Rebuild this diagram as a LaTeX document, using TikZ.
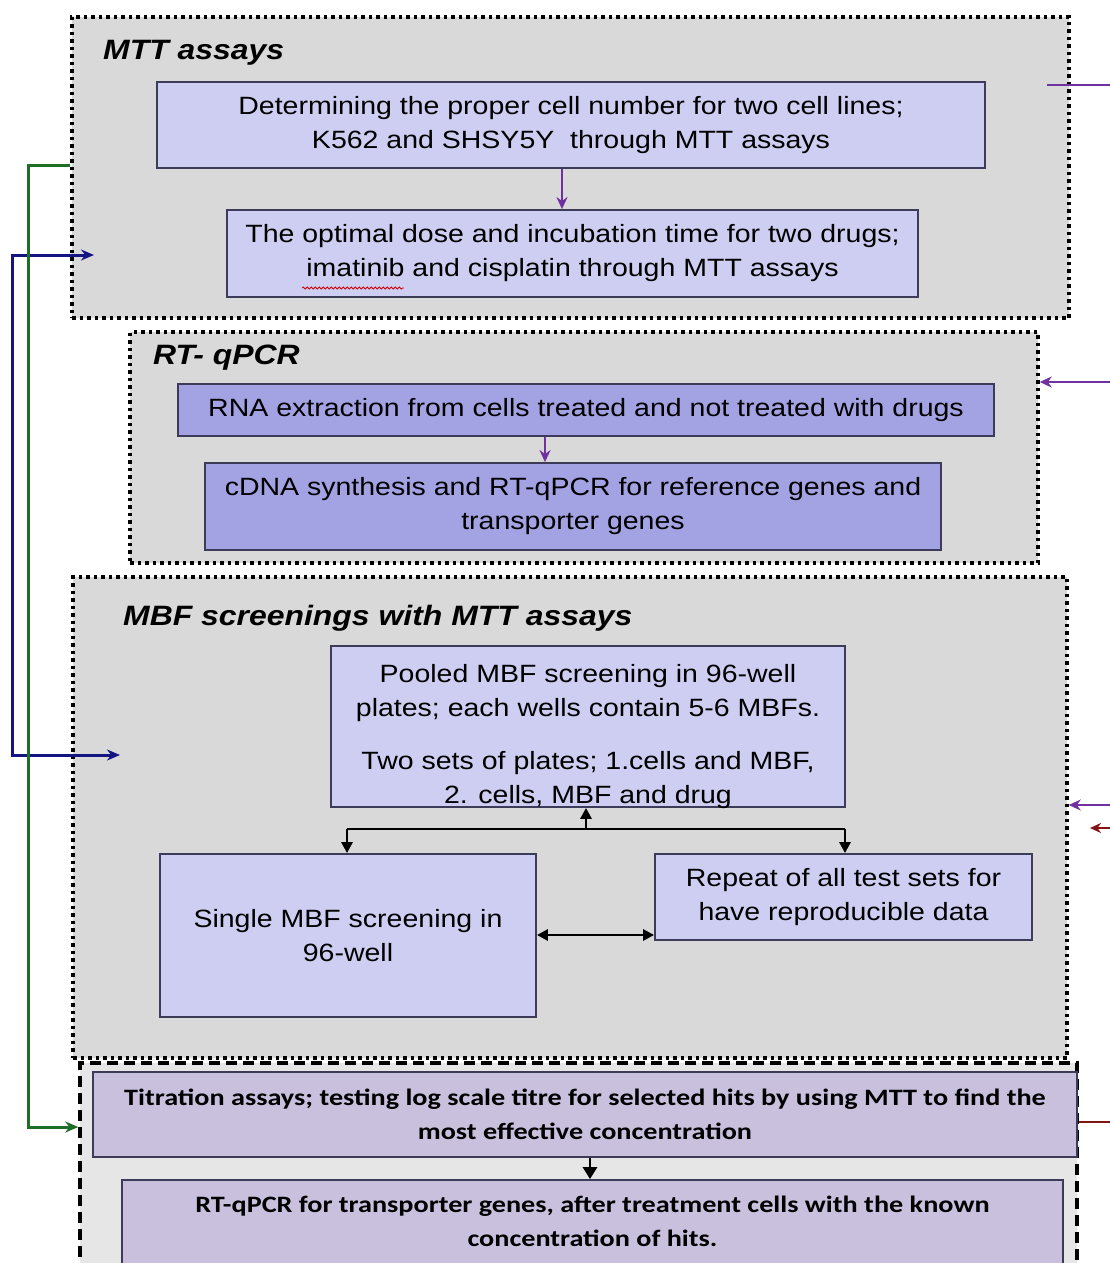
\documentclass[tikz,border=0pt]{standalone}
\usepackage{fontspec}
\setmainfont{Liberation Sans}[FakeStretch=1.14]
\newfontfamily\calfont{Carlito}[FakeStretch=1.2]
\usetikzlibrary{arrows.meta,decorations.pathmorphing}
\definecolor{grpgray}{RGB}{217,217,217}
\definecolor{grplight}{RGB}{230,230,230}
\definecolor{boxlight}{RGB}{206,206,242}
\definecolor{boxmid}{RGB}{163,163,228}
\definecolor{boxpurp}{RGB}{201,192,222}
\definecolor{boxedge}{RGB}{60,60,90}
\definecolor{arrpurp}{RGB}{112,48,160}
\definecolor{arrnavy}{RGB}{20,20,130}
\definecolor{arrgreen}{RGB}{30,110,40}
\definecolor{arrred}{RGB}{130,20,20}
\tikzset{
  grpbox/.style={draw=black, fill=grpgray, line width=3.5pt, dash pattern=on 3.5pt off 4pt, inner sep=0pt},
  grpdash/.style={draw=black, fill=grplight, line width=3.5pt, dash pattern=on 11pt off 6pt, inner sep=0pt},
  stepbox/.style={draw=boxedge, line width=1.8pt, inner sep=0pt, align=center, font=\fontsize{25}{34}\selectfont},
  steptext/.style={inner sep=0pt, align=center, font=\fontsize{25}{34}\selectfont},
  boldbox/.style={draw=boxedge, line width=1.8pt, inner sep=0pt, align=center, fill=boxpurp, font=\calfont\bfseries\fontsize{23.5}{34}\selectfont},
  grptitle/.style={anchor=west, inner sep=0pt, font=\bfseries\itshape\fontsize{28}{34}\selectfont},
  purparrow/.style={draw=arrpurp, line width=2.5pt, -{Stealth[length=12pt,width=11pt]}},
  purpline/.style={draw=arrpurp, line width=2.5pt},
  blkarrow/.style={draw=black, line width=2.8pt, -{Triangle[length=11pt,width=11pt]}},
  blkdouble/.style={draw=black, line width=2.8pt, {Triangle[length=11pt,width=11pt]}-{Triangle[length=11pt,width=11pt]}},
  navyarrow/.style={draw=arrnavy, line width=3pt, {Stealth[length=13pt,width=11pt]}-{Stealth[length=13pt,width=11pt]}},
  greenarrow/.style={draw=arrgreen, line width=3pt, -{Stealth[length=13pt,width=11pt]}},
  redarrow/.style={draw=arrred, line width=2.5pt, -{Stealth[length=11pt,width=10pt]}},
  redline/.style={draw=arrred, line width=2.5pt}
}
\begin{document}
\begin{tikzpicture}[x=1pt,y=-1pt]
\useasboundingbox[fill=white] (0,0) rectangle (1110,1263);
\clip (0,0) rectangle (1110,1263);

% groups
\node[grpbox, minimum width=997, minimum height=301] (mtt) at (570.5,167.5) {};
\node[grpbox, minimum width=908, minimum height=231] (rt) at (584,447.5) {};
\node[grpbox, minimum width=994, minimum height=481] (mbf) at (570,817.5) {};
\node[grpdash, minimum width=997, minimum height=220] (titr) at (578.5,1173) {};

\node[grptitle] (t1) at (103,53) {MTT assays};
\node[grptitle] (t2) at (153,358) {RT- qPCR};
\node[grptitle] (t3) at (123,618) {MBF screenings with MTT assays};

% boxes
\node[stepbox, fill=boxlight, minimum width=828, minimum height=86] (b1) at (571,125)
  {Determining the proper cell number for two cell lines;\\K562 and SHSY5Y~ through MTT assays};
\node[stepbox, fill=boxlight, minimum width=691, minimum height=87] (b2) at (572.5,253.5)
  {The optimal dose and incubation time for two drugs;\\imatinib and cisplatin through MTT assays};
\node[stepbox, fill=boxmid, minimum width=816, minimum height=52] (b3) at (586,410)
  {RNA extraction from cells treated and not treated with drugs};
\node[stepbox, fill=boxmid, minimum width=736, minimum height=87] (b4) at (573,506.5)
  {cDNA synthesis and RT-qPCR for reference genes and\\transporter genes};
\node[stepbox, fill=boxlight, minimum width=514, minimum height=161] (b5) at (588,726.5) {};
\node[steptext] (b5t) at (588,736.5)
  {Pooled MBF screening in 96-well\\plates; each wells contain 5-6 MBFs.\\[19pt]Two sets of plates; 1.cells and MBF,\\2. cells, MBF and drug};
\node[stepbox, fill=boxlight, minimum width=376, minimum height=163] (b6) at (348,935.5)
  {Single MBF screening in\\96-well};
\node[stepbox, fill=boxlight, minimum width=377, minimum height=86] (b7) at (843.5,897)
  {Repeat of all test sets for\\have reproducible data};
\node[boldbox, minimum width=984, minimum height=85] (b8) at (585,1114.5)
  {Titration assays; testing log scale titre for selected hits by using MTT to find the\\most effective concentration};
\node[boldbox, minimum width=941, minimum height=100, text depth=17pt] (b9) at (592.5,1230)
  {RT-qPCR for transporter genes, after treatment cells with the known\\concentration of hits.};

% spell-check squiggle
\draw[red!80!black, line width=0.8pt, decorate, decoration={snake, amplitude=1pt, segment length=4pt}] (302,288) -- (404,288);

% inner arrows
\draw[purparrow] (b1.south -| 562,0) -- (b2.north -| 562,0);
\draw[purparrow] (b3.south -| 545,0) -- (b4.north -| 545,0);

\coordinate (jn) at (586,829);
\draw[blkarrow] (jn) -- (b5.south -| jn);
\draw[black, line width=2.8pt] (347,829) -- (845,829);
\draw[blkarrow] (347,829) -- (b6.north -| 347,0);
\draw[blkarrow] (845,829) -- (b7.north -| 845,0);
\draw[blkdouble] (b6.east |- 0,935) -- (b7.west |- 0,935);
\draw[black, line width=2.8pt, -{Triangle[length=12pt,width=14pt]}] (b8.south -| 590,0) -- (b9.north -| 590,0);

% left connectors
\coordinate (nv1) at (94,255);
\coordinate (nv2) at (120,755);
\draw[navyarrow] (nv1) -| (12,755) -- (nv2);
\coordinate (gr1) at (mtt.west |- 0,165);
\draw[greenarrow] (gr1) -- (28,165) |- (titr.west |- 0,1127);

% right connectors
\coordinate (rp1) at (1047,85);
\coordinate (rp2) at (1110,85);
\draw[purpline] (rp1) -- (rp2);
\coordinate (rp3) at (1110,382);
\draw[purparrow] (rp3) -- (rt.east |- 0,382);
\coordinate (rp4) at (1110,805);
\draw[purparrow] (rp4) -- (mbf.east |- 0,805);
\coordinate (rr1) at (1110,828);
\coordinate (rr2) at (1090,828);
\draw[redarrow] (rr1) -- (rr2);
\coordinate (rr3) at (1110,1122);
\draw[redline] (titr.east |- 0,1122) -- (rr3);
\end{tikzpicture}
\end{document}
